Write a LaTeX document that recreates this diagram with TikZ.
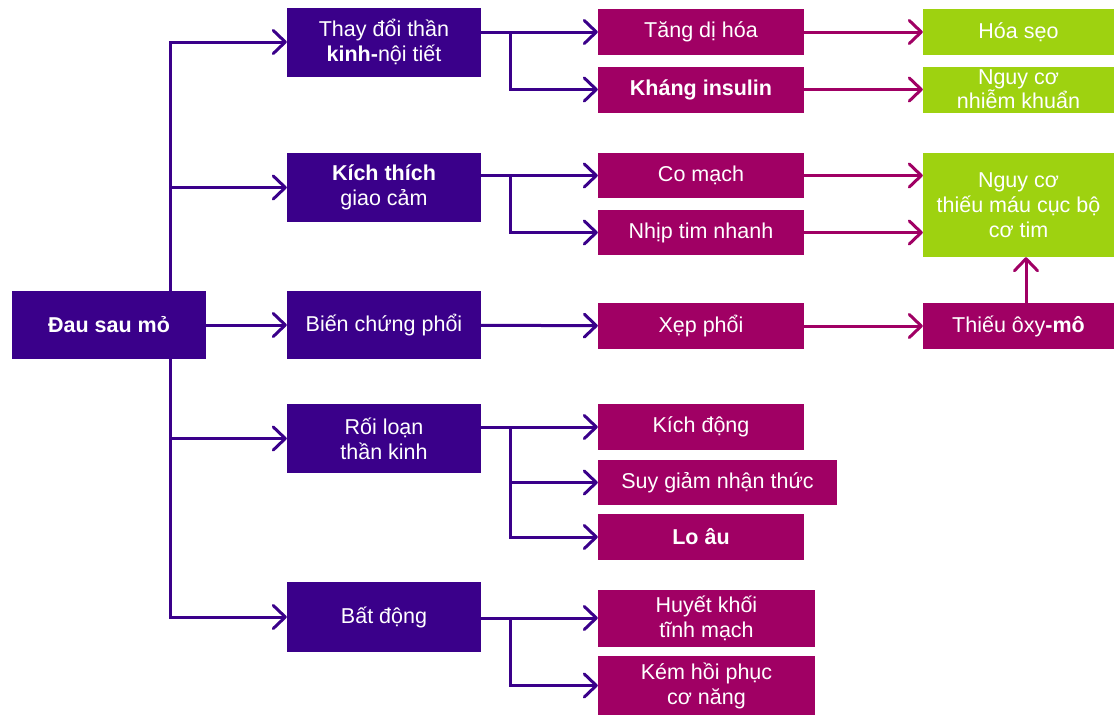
\documentclass[tikz,border=0pt]{standalone}
\usepackage{fontspec}
\setmainfont{Liberation Sans}
\usetikzlibrary{arrows.meta}
\definecolor{pur}{RGB}{58,0,138}
\definecolor{mag}{RGB}{160,0,100}
\definecolor{grn}{RGB}{158,210,16}
\tikzset{
  bx/.style={rectangle, inner sep=0pt, text=white, align=center,
    font=\fontsize{21.5}{25}\selectfont},
  pbox/.style={bx, fill=pur},
  mbox/.style={bx, fill=mag},
  gbox/.style={bx, fill=grn},
  tipb/.style={-{Straight Barb[length=12pt,width=23pt,round]}},
  parr/.style={draw=pur, line width=3pt, tipb},
  marr/.style={draw=mag, line width=3pt, tipb},
}
\begin{document}
\begin{tikzpicture}[x=1pt,y=-1pt]
\useasboundingbox (0,0) rectangle (1114,715);
% root
\node[pbox, minimum width=194pt, minimum height=68pt] (root) at (109,325) {\textbf{Đau sau mỏ}};
% level 1
\node[pbox, minimum width=194pt, minimum height=69pt] (b1) at (384,42) {Thay đổi thần\\\textbf{kinh-}nội tiết};
\node[pbox, minimum width=194pt, minimum height=69pt] (b2) at (384,187.5) {\textbf{Kích thích}\\giao cảm};
\node[pbox, minimum width=194pt, minimum height=68pt] (b3) at (384,325) {Biến chứng phổi};
\node[pbox, minimum width=194pt, minimum height=69pt] (b4) at (384,438.5) {Rối loạn\\thần kinh};
\node[pbox, minimum width=194pt, minimum height=70pt] (b5) at (384,617) {Bất động};
% level 2
\node[mbox, minimum width=206pt, minimum height=46pt] (c1) at (701,32) {Tăng dị hóa};
\node[mbox, minimum width=206pt, minimum height=46pt] (c2) at (701,89.5) {\textbf{Kháng insulin}};
\node[mbox, minimum width=206pt, minimum height=45pt] (c3) at (701,175.5) {Co mạch};
\node[mbox, minimum width=206pt, minimum height=45pt] (c4) at (701,232.5) {Nhịp tim nhanh};
\node[mbox, minimum width=206pt, minimum height=46pt] (c5) at (701,326) {Xẹp phổi};
\node[mbox, minimum width=206pt, minimum height=46pt] (c6) at (701,427) {Kích động};
\node[mbox, minimum width=239pt, minimum height=45pt] (c7) at (717.5,482.5) {Suy giảm nhận thức};
\node[mbox, minimum width=206pt, minimum height=46pt] (c8) at (701,537) {\textbf{Lo âu}};
\node[mbox, minimum width=217pt, minimum height=57pt] (c9) at (706.5,618) {Huyết khối\\tĩnh mạch};
\node[mbox, minimum width=217pt, minimum height=59pt] (c10) at (706.5,685.5) {Kém hồi phục\\cơ năng};
% level 3
\node[gbox, minimum width=191pt, minimum height=46pt] (d1) at (1018.5,32) {Hóa sẹo};
\node[gbox, minimum width=191pt, minimum height=46pt, font=\fontsize{21.5}{22}\selectfont] (d2) at (1018.5,89.5) {Nguy cơ\\nhiễm khuẩn};
\node[gbox, minimum width=191pt, minimum height=104pt] (d3) at (1018.5,205) {Nguy cơ\\thiếu máu cục bộ\\cơ tim};
\node[mbox, minimum width=191pt, minimum height=46pt] (d4) at (1018.5,326) {Thiếu ôxy\textbf{-mô}};
% helper coordinates
\coordinate (tr) at (170,325);
\coordinate (jx) at (510,0);
\coordinate (ax) at (1026,0);
% trunk
\draw[parr] (root.north -| tr) |- (b1);
\draw[parr] (root.north -| tr) |- (b2);
\draw[parr] (root.south -| tr) |- (b4);
\draw[parr] (root.south -| tr) |- (b5);
\draw[parr] (root) -- (b3);
% level 1 -> level 2
\draw[parr] (b1.east |- c1) -- (c1);
\draw[parr] (jx |- c1) |- (c2);
\draw[parr] (b2.east |- c3) -- (c3);
\draw[parr] (jx |- c3) |- (c4);
\draw[parr] (b3) -- (c5);
\draw[parr] (b4.east |- c6) -- (c6);
\draw[parr] (jx |- c6) |- (c7);
\draw[parr] (jx |- c6) |- (c8);
\draw[parr] (b5.east |- c9) -- (c9);
\draw[parr] (jx |- c9) |- (c10);
% level 2 -> level 3
\draw[marr] (c1) -- (d1);
\draw[marr] (c2) -- (d2);
\draw[marr] (c3.east) -- (c3.east -| d3.west);
\draw[marr] (c4.east) -- (c4.east -| d3.west);
\draw[marr] (c5) -- (d4);
\draw[marr] (d4.north -| ax) -- (d3.south -| ax);
\end{tikzpicture}
\end{document}
